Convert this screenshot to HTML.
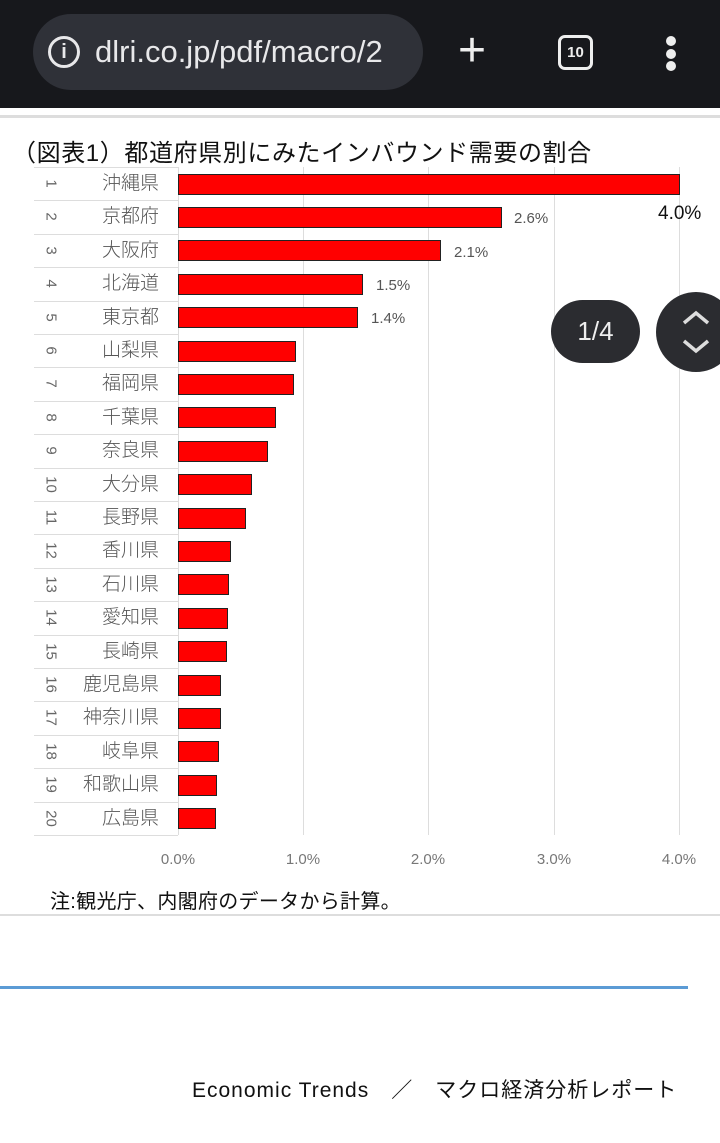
<!DOCTYPE html>
<html><head><meta charset="utf-8"><style>
*{margin:0;padding:0;box-sizing:border-box}
body{width:720px;height:1143px;background:#fff;position:relative;overflow:hidden;font-family:"Liberation Sans","Noto Sans CJK JP",sans-serif}
.a{position:absolute}
.bar{position:absolute;left:178px;height:21px;background:#ff0000;border:1px solid #222}
.rn{position:absolute;left:36px;width:30px;height:33px;display:flex;align-items:center;justify-content:center;transform:rotate(90deg);color:#666;font-size:15px}
.nm{position:absolute;left:50px;width:109px;text-align:right;color:#555;font-size:19px;line-height:33px;font-weight:300}
.rl{position:absolute;left:34px;width:144px;height:1px;background:#ddd}
.gl{position:absolute;top:167px;height:668px;width:1px;background:#ddd}
.tk{position:absolute;top:851px;font-size:15px;color:#777;width:60px;text-align:center}
.vl{position:absolute;font-size:15px;color:#555}
</style></head><body>
<div class="a" style="left:0;top:0;width:720px;height:108px;background:#17181c"></div>
<div class="a" style="left:33px;top:14px;width:390px;height:76px;border-radius:38px;background:#2f3138;overflow:hidden;color:#e8e8ea;font-size:31px;line-height:76px;white-space:nowrap">
<span class="a" style="left:15px;top:22px;width:32px;height:32px;border:3px solid #e8e8ea;border-radius:50%;font-size:20px;line-height:26px;text-align:center;font-weight:bold">i</span>
<span class="a" style="left:62px;top:0">dlri.co.jp/pdf/macro/2</span></div>
<div class="a" style="left:458px;top:23px;color:#eee;font-size:48px;line-height:56px">+</div>
<div class="a" style="left:558px;top:35px;width:35px;height:35px;border:3px solid #eee;border-radius:7px;color:#eee;font-size:15px;font-weight:bold;text-align:center;line-height:29px">10</div>
<div class="a" style="left:666px;top:36px;width:10px;height:10px;border-radius:50%;background:#eee"></div>
<div class="a" style="left:666px;top:49px;width:10px;height:10px;border-radius:50%;background:#eee"></div>
<div class="a" style="left:666px;top:61px;width:10px;height:10px;border-radius:50%;background:#eee"></div>
<div class="a" style="left:0;top:115px;width:720px;height:3px;background:#ddd"></div>
<div class="a" style="left:12px;top:133px;font-size:24px;letter-spacing:0.6px;color:#111;white-space:nowrap">（図表1）都道府県別にみたインバウンド需要の割合</div>
<div class="gl" style="left:303px"></div><div class="gl" style="left:428px"></div><div class="gl" style="left:554px"></div><div class="gl" style="left:679px"></div>
<div class="a" style="left:178px;top:167px;width:1px;height:668px;background:#ddd"></div>
<div id="rows"></div>
<script>
var n=["沖縄県","京都府","大阪府","北海道","東京都","山梨県","福岡県","千葉県","奈良県","大分県","長野県","香川県","石川県","愛知県","長崎県","鹿児島県","神奈川県","岐阜県","和歌山県","広島県"];
var e=[680,502,441,363,358,296,294,276,268,252,246,231,229,228,227,221,221,219,217,216];
var h="";
for(var i=0;i<20;i++){var t=167+i*33.4;
h+='<div class="rl" style="top:'+t+'px"></div><div class="rn" style="top:'+t+'px">'+(i+1)+'</div><div class="nm" style="top:'+t+'px">'+n[i]+'</div><div class="bar" style="top:'+(t+6.5)+'px;width:'+(e[i]-178)+'px"></div>';}
h+='<div class="rl" style="top:835px"></div>';
document.getElementById("rows").innerHTML=h;
</script>
<div class="vl" style="left:658px;top:203px;font-size:19px;color:#111">4.0%</div>
<div class="vl" style="left:514px;top:210px">2.6%</div>
<div class="vl" style="left:454px;top:244px">2.1%</div>
<div class="vl" style="left:376px;top:277px">1.5%</div>
<div class="vl" style="left:371px;top:310px">1.4%</div>
<div class="tk" style="left:148px">0.0%</div><div class="tk" style="left:273px">1.0%</div><div class="tk" style="left:398px">2.0%</div><div class="tk" style="left:524px">3.0%</div><div class="tk" style="left:649px">4.0%</div>
<div class="a" style="left:50px;top:885px;font-size:20px;color:#111;letter-spacing:0.3px">注:観光庁、内閣府のデータから計算。</div>
<div class="a" style="left:0;top:914px;width:720px;height:2px;background:#ddd"></div>
<div class="a" style="left:0;top:986px;width:688px;height:3px;background:#5b9bd5"></div>
<div class="a" style="left:192px;top:1074px;font-size:21px;letter-spacing:1px;color:#111;white-space:nowrap">Economic Trends　／　マクロ経済分析レポート</div>
<div class="a" style="left:551px;top:300px;width:89px;height:63px;border-radius:32px;background:#2b2c30;color:#eee;font-size:26px;text-align:center;line-height:63px">1/4</div>
<div class="a" style="left:656px;top:292px;width:80px;height:80px;border-radius:50%;background:#2b2c30;color:#ddd;text-align:center">
<svg width="40" height="50" style="position:absolute;left:20px;top:15px"><path d="M8 16 L20 6 L32 16 M8 34 L20 44 L32 34" stroke="#ddd" stroke-width="3.5" fill="none"/></svg></div>
</body></html>
